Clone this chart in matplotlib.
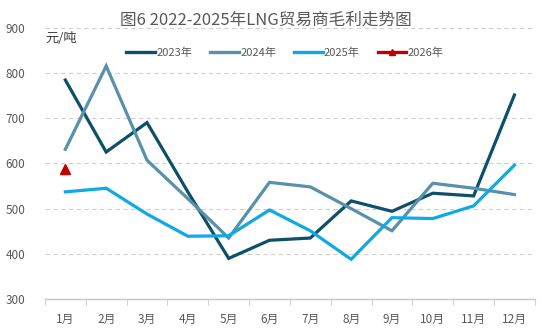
import matplotlib
matplotlib.use("Agg")
import matplotlib.pyplot as plt
from matplotlib.lines import Line2D

plt.rcParams['font.family'] = ['Noto Sans CJK SC', 'DejaVu Sans']

months = ["1月", "2月", "3月", "4月", "5月", "6月", "7月", "8月", "9月", "10月", "11月", "12月"]
y2023 = [784, 625, 690, 537, 390, 430, 435, 517, 494, 534, 528, 751]
y2024 = [631, 815, 607, 522, 435, 558, 548, 500, 451, 556, 545, 531]
y2025 = [537, 545, 488, 439, 440, 497, 451, 388, 480, 478, 506, 596]
y2026 = [587]

c23, c24, c25, c26 = "#0e4f6a", "#5891aa", "#0fa9e6", "#c00000"
grey = "#595959"

fig = plt.figure(figsize=(5.48, 3.32), dpi=100)
ax = fig.add_axes([0.082, 0.099, 0.894, 0.818])

x = list(range(len(months)))
lw = 2.3
ax.plot(x, y2023, color=c23, lw=lw, label="2023年", solid_joinstyle="miter")
ax.plot(x, y2024, color=c24, lw=lw, label="2024年", solid_joinstyle="miter")
ax.plot(x, y2025, color=c25, lw=lw, label="2025年", solid_joinstyle="miter")
ax.plot(x[:len(y2026)], y2026, color=c26, lw=lw, marker="^", markersize=7,
        linestyle="none", label="2026年")

ax.set_xlim(-0.5, 11.5)
ax.set_ylim(300, 900)
ax.set_yticks(range(300, 901, 100))
ax.yaxis.grid(True, linestyle=(0, (4, 3)), color="#d0d0d0", lw=0.8)
ax.set_axisbelow(True)

ax.set_xticks(x)
ax.set_xticklabels(months)
ax.set_xticks([i - 0.5 for i in range(13)], minor=True)
ax.tick_params(axis="x", which="major", length=0, pad=10, labelsize=8.5, colors=grey)
ax.tick_params(axis="x", which="minor", length=4, color="#c8c8c8", direction="out")
ax.tick_params(axis="y", length=0, pad=14, labelsize=8.5, colors=grey)

for s in ["top", "right", "left"]:
    ax.spines[s].set_visible(False)
ax.spines["bottom"].set_color("#c8c8c8")
ax.spines["bottom"].set_linewidth(1.0)

fig.text(0.485, 0.94, "图6 2022-2025年LNG贸易商毛利走势图", ha="center", va="center",
         fontsize=12, color=grey)
fig.text(0.082, 0.885, "元/吨", ha="left", va="center", fontsize=9.5, color="#404040")

handles = [
    Line2D([], [], color=c23, lw=2.4),
    Line2D([], [], color=c24, lw=2.4),
    Line2D([], [], color=c25, lw=2.4),
    Line2D([], [], color=c26, lw=2.4, marker="^", markersize=5),
]
fig.legend(handles, ["2023年", "2024年", "2025年", "2026年"], loc="center",
           bbox_to_anchor=(0.52, 0.84), ncol=4, frameon=False, fontsize=8,
           handlelength=2.6, columnspacing=1.6, handletextpad=0.1, labelcolor=grey)

fig.savefig("out.png", dpi=100)
